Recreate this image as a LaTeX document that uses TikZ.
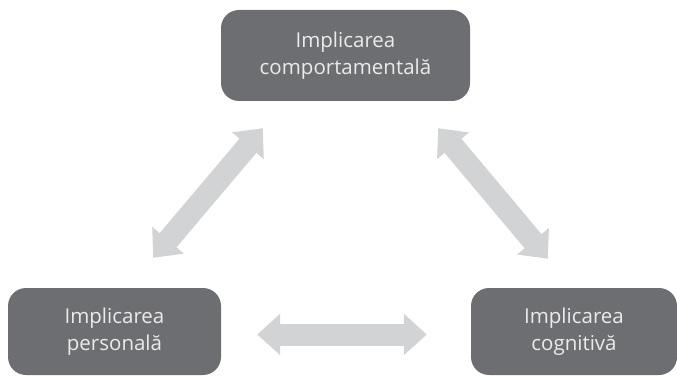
\documentclass[tikz,border=0pt]{standalone}
\usepackage{fontspec}
\setmainfont{Open Sans}
\usetikzlibrary{arrows.meta}
\definecolor{boxgray}{HTML}{6D6E71}
\definecolor{arrowgray}{HTML}{D1D3D4}
\begin{document}
\begin{tikzpicture}[x=1pt, y=1pt,
    box/.style={rectangle, rounded corners=18pt, fill=boxgray, text=white!92!black,
        font=\fontsize{20.5}{26.5}\selectfont, align=center, inner sep=0pt},
    twoway/.style={draw=arrowgray, line width=22pt,
        {Triangle[width=40pt,length=23pt]}-{Triangle[width=40pt,length=23pt]}}]
    \useasboundingbox (0,0) rectangle (677,375);
    % Boxes
    \node[box, minimum width=249pt, minimum height=91pt] (behav) at (345.5,319.5) {Implicarea\\comportamentală};
    \node[box, minimum width=213pt, minimum height=87pt] (personal) at (114.5,43.5) {Implicarea\\personală};
    \node[box, minimum width=206pt, minimum height=87pt] (cognit) at (574,43.5) {Implicarea\\cognitivă};

    % Connections
    \draw[twoway] ([xshift=42pt,yshift=-27pt]behav.south west) -- ([xshift=-68pt,yshift=30pt]personal.north east);
    \draw[twoway] ([xshift=-32pt,yshift=-27pt]behav.south east) -- ([xshift=77pt,yshift=29pt]cognit.north west);
    \draw[twoway] ([xshift=36pt,yshift=-3pt]personal.east) -- ([xshift=-44pt,yshift=-3pt]cognit.west);
\end{tikzpicture}
\end{document}
